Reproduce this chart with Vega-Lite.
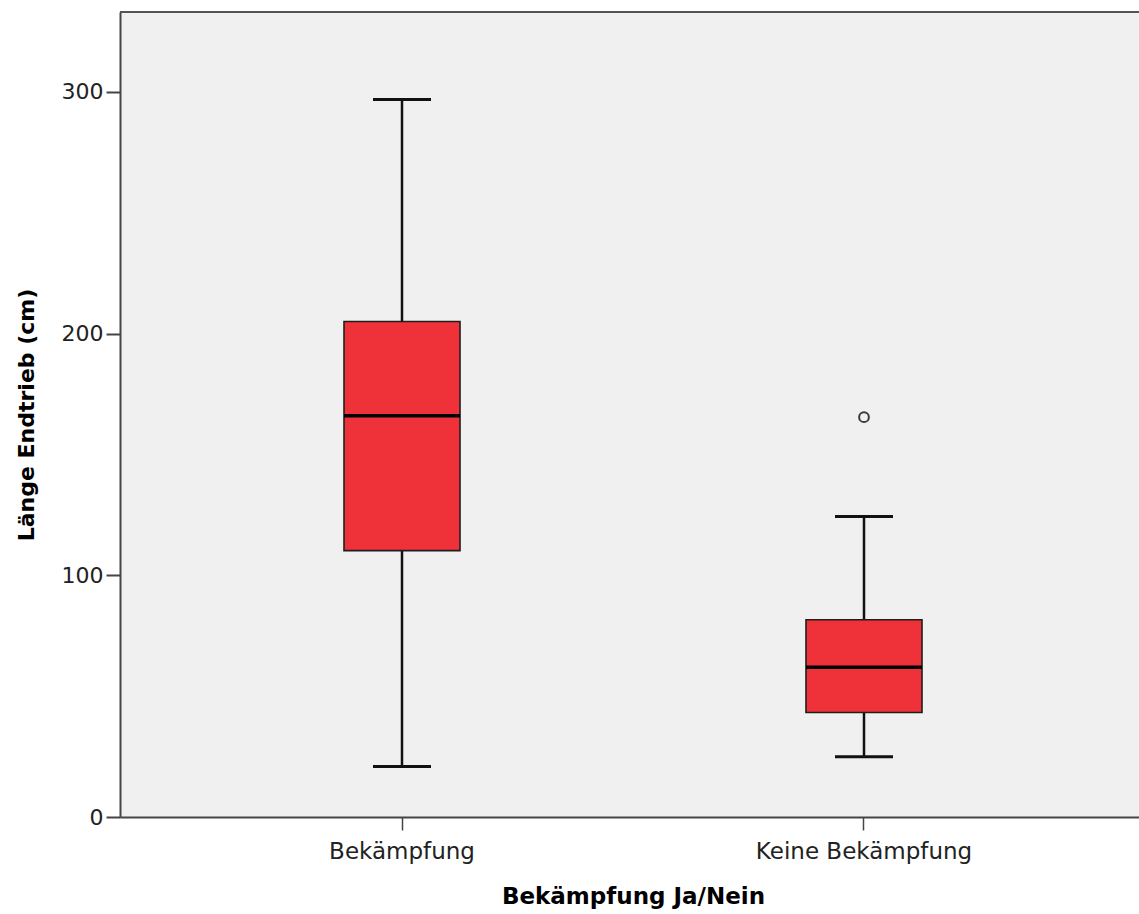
{
  "$schema": "https://vega.github.io/schema/vega-lite/v6.json",
  "width": 1019,
  "height": 805,
  "autosize": "none",
  "padding": {"left": 120, "top": 12, "right": 0, "bottom": 97},
  "background": "white",
  "view": {"fill": "#f0f0f0", "stroke": null},
  "datasets": {
    "boxes": [
      {"group": "Bekämpfung", "lo": 20.9, "q1": 110.2, "med": 166.0, "q3": 205.0, "hi": 296.8},
      {"group": "Keine Bekämpfung", "lo": 24.9, "q1": 43.2, "med": 61.9, "q3": 81.6, "hi": 124.3}
    ],
    "outliers": [
      {"group": "Keine Bekämpfung", "value": 165.4}
    ]
  },
  "config": {
    "axis": {
      "labelFont": "DejaVu Sans",
      "titleFont": "DejaVu Sans",
      "labelColor": "#222222",
      "titleColor": "#000000",
      "domainColor": "#454545",
      "domainWidth": 2,
      "tickColor": "#454545",
      "grid": false,
      "labelLimit": 0
    }
  },
  "layer": [
    {
      "encoding": {
        "x": {
          "field": "group",
          "type": "nominal",
          "sort": ["Bekämpfung", "Keine Bekämpfung"],
          "scale": {"type": "band", "range": [0, 1026], "paddingInner": 0, "paddingOuter": 0.1104},
          "axis": {
            "title": "Bekämpfung Ja/Nein",
            "labelAngle": 0,
            "labelFontSize": 23,
            "labelPadding": 10,
            "tickSize": 13,
            "tickWidth": 1.5,
            "titleFontSize": 23,
            "titleFontWeight": "bold",
            "titlePadding": 22
          }
        }
      },
      "layer": [
        {
          "data": {"name": "boxes"},
          "mark": {"type": "rule", "color": "#111111", "strokeWidth": 2.5},
          "encoding": {
            "y": {
              "field": "lo",
              "type": "quantitative",
              "scale": {"domain": [0, 333], "nice": false, "zero": true},
              "axis": {
                "title": "Länge Endtrieb (cm)",
                "values": [0, 100, 200, 300],
                "labelFontSize": 22,
                "labelPadding": 3,
                "tickSize": 14,
                "tickWidth": 2,
                "titleFontSize": 22,
                "titleFontWeight": "bold",
                "titlePadding": 23
              }
            },
            "y2": {"field": "hi"}
          }
        },
        {
          "data": {"name": "boxes"},
          "mark": {"type": "tick", "color": "#111111", "opacity": 1, "size": 58, "thickness": 3},
          "encoding": {"y": {"field": "lo", "type": "quantitative"}}
        },
        {
          "data": {"name": "boxes"},
          "mark": {"type": "tick", "color": "#111111", "opacity": 1, "size": 58, "thickness": 3},
          "encoding": {"y": {"field": "hi", "type": "quantitative"}}
        },
        {
          "data": {"name": "boxes"},
          "mark": {"type": "bar", "size": 116, "fill": "#ef3239", "opacity": 1, "stroke": "#1e1e1e", "strokeWidth": 1.6},
          "encoding": {
            "y": {"field": "q1", "type": "quantitative"},
            "y2": {"field": "q3"}
          }
        },
        {
          "data": {"name": "boxes"},
          "mark": {"type": "tick", "color": "#000000", "opacity": 1, "size": 116, "thickness": 3.5},
          "encoding": {"y": {"field": "med", "type": "quantitative"}}
        },
        {
          "data": {"name": "outliers"},
          "mark": {"type": "point", "filled": false, "shape": "circle", "size": 95, "stroke": "#3a3a3a", "strokeWidth": 2, "opacity": 1},
          "encoding": {"y": {"field": "value", "type": "quantitative"}}
        }
      ]
    },
    {
      "data": {"values": [{}]},
      "mark": {"type": "rule", "color": "#555555", "strokeWidth": 2},
      "encoding": {"y": {"datum": 333}}
    }
  ]
}
